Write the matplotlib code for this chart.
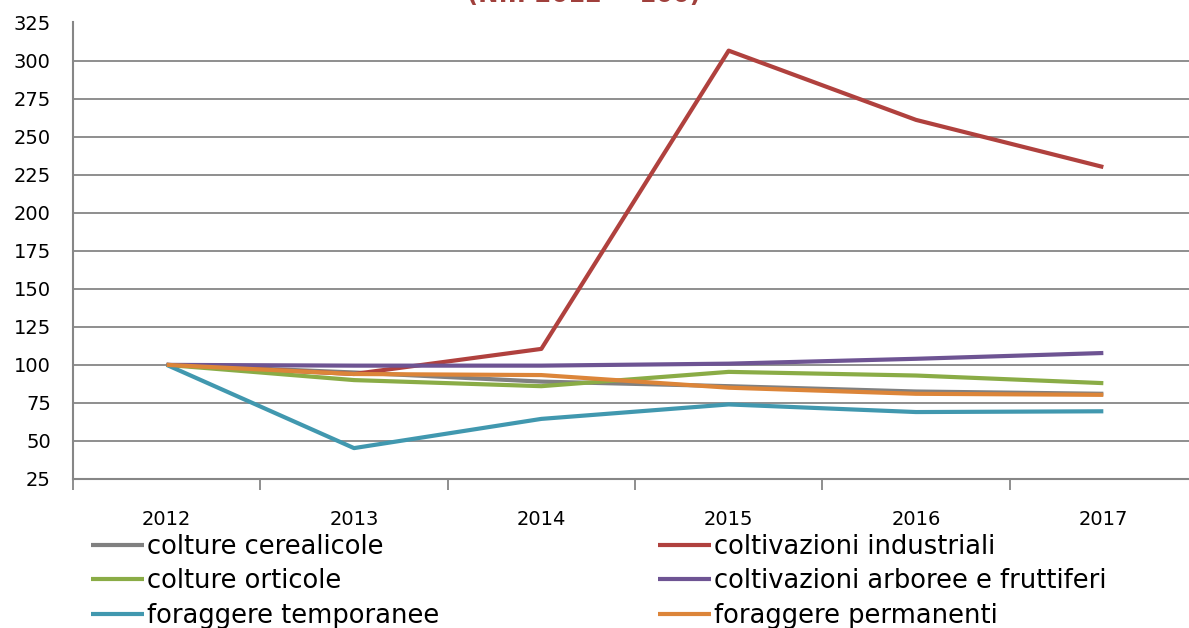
import numpy as np
import matplotlib.pyplot as plt

plt.rcParams['font.family'] = ['DejaVu Sans']

anni = ['2012', '2013', '2014', '2015', '2016', '2017']

cerealicole = [100, 95, 89, 86, 82.5, 81]
industriali = [100, 94, 110.5, 306.5, 261, 230]
orticole = [100, 90, 86, 95.4, 93, 88]
arboree = [100, 99.5, 99.5, 100.8, 104, 107.8]
temporanee = [100, 45.3, 64.5, 74, 69, 69.5]
permanenti = [100, 94, 93.3, 85, 81, 80.3]

serie = [
    ('colture cerealicole', cerealicole, '#808080'),
    ('coltivazioni industriali', industriali, '#b0413e'),
    ('colture orticole', orticole, '#8aac46'),
    ('coltivazioni arboree e fruttiferi', arboree, '#6e5493'),
    ('foraggere temporanee', temporanee, '#4198af'),
    ('foraggere permanenti', permanenti, '#dc8539'),
]

fig = plt.figure(figsize=(11.89, 6.28), dpi=100)
ax = fig.add_axes([73 / 1189, 1 - 479 / 628, 1124 / 1189, (479 - 22.5) / 628])

x = np.arange(len(anni))
linee = {}
for nome, valori, colore in serie:
    linee[nome], = ax.plot(x, valori, color=colore, lw=3, label=nome,
                           solid_capstyle='butt', zorder=3)

ax.set_ylim(25, 325)
ax.set_yticks(np.arange(25, 326, 25))
ax.set_xlim(-0.5, 5.5)
ax.set_xticks(x)
ax.set_xticklabels(anni)
ax.set_xticks(np.arange(-0.5, 5.6, 1), minor=True)
ax.tick_params(axis='x', which='major', length=0, pad=22, labelsize=14)
ax.tick_params(axis='x', which='minor', length=8, width=1.3, color='#868686')
ax.tick_params(axis='y', length=0, pad=16, labelsize=14)
ax.grid(axis='y', color='#868686', lw=1.3, zorder=0)
for s in ['top', 'right']:
    ax.spines[s].set_visible(False)
for s in ['left', 'bottom']:
    ax.spines[s].set_color('#868686')
    ax.spines[s].set_linewidth(1.5)

fig.text(584 / 1189, 1 - 2 / 628, '(N.I. 2012 = 100)', ha='center', va='baseline',
         fontsize=17.5, fontweight='bold', color='#a0403c')

ordine = ['colture cerealicole', 'colture orticole', 'foraggere temporanee',
          'coltivazioni industriali', 'coltivazioni arboree e fruttiferi',
          'foraggere permanenti']
fig.legend([linee[n] for n in ordine], ordine, ncol=2, frameon=False,
           loc='upper left', bbox_to_anchor=(91 / 1189, 1 - 534 / 628),
           fontsize=18.5, handlelength=2.06, handletextpad=0.12,
           labelspacing=0.33, columnspacing=8.5, borderpad=0, borderaxespad=0)

plt.savefig('out.png', dpi=100)
